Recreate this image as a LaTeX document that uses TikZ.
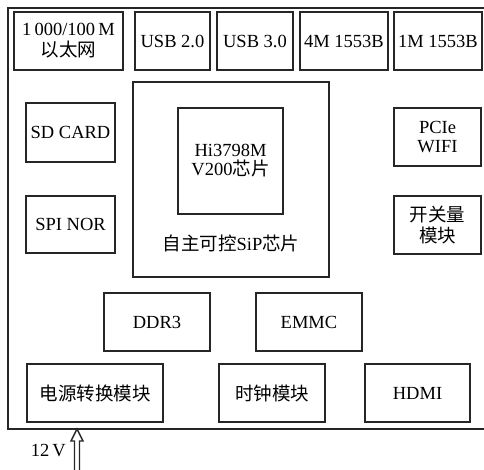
\documentclass[tikz,border=0pt]{standalone}
\usepackage{fontspec}
\setmainfont{Liberation Serif}
\newfontfamily\cjk{Noto Sans CJK SC}
\begin{document}
\begin{tikzpicture}[x=1pt,y=-1pt,
  box/.style={draw=black!85, line width=1.8pt, inner sep=0pt, align=center,
    font=\fontsize{18.5}{20}\selectfont},
  lbl/.style={inner sep=0pt, align=center, font=\fontsize{18.5}{20}\selectfont}]
\useasboundingbox (0,0) rectangle (484,470);
% outer frame
\draw[line width=1.4pt, black!85] (8,8) rectangle (492,429);
% top row
\node[box, minimum width=109pt, minimum height=58pt] (eth) at (68.5,41) {1\,000/100\,M\\[1pt]{\cjk 以太网}};
\node[box, minimum width=75pt, minimum height=58pt] (usb2) at (172.5,41) {USB 2.0};
\node[box, minimum width=76pt, minimum height=58pt] (usb3) at (255,41) {USB 3.0};
\node[box, minimum width=88pt, minimum height=58pt] (m4) at (344,41) {4M 1553B};
\node[box, minimum width=88pt, minimum height=58pt] (m1) at (438,41) {1M 1553B};
% SiP
\node[box, minimum width=196pt, minimum height=195pt] (sip) at (231,179.5) {};
\node[box, minimum width=105pt, minimum height=106pt] (hi) at (230.5,161) {Hi3798M\\[-1pt]V200{\cjk 芯片}};
\node[lbl] (siplbl) at (231,243) {{\cjk 自主可控}SiP{\cjk 芯片}};
% left column
\node[box, minimum width=89pt, minimum height=59pt] (sd) at (70.5,132.5) {SD CARD};
\node[box, minimum width=89pt, minimum height=57pt] (spi) at (70.5,224.5) {SPI NOR};
% right column
\node[box, minimum width=87pt, minimum height=58pt] (pcie) at (437.5,137) {PCIe\\[-1pt]WIFI};
\node[box, minimum width=87pt, minimum height=58pt] (kg) at (437.5,225) {{\cjk 开关量}\\[1pt]{\cjk 模块}};
% memory row
\node[box, minimum width=106pt, minimum height=58pt] (ddr) at (157,322) {DDR3};
\node[box, minimum width=106pt, minimum height=58pt] (emmc) at (309,322) {EMMC};
% bottom row
\node[box, minimum width=136pt, minimum height=58pt] (pwr) at (95,393) {\cjk 电源转换模块};
\node[box, minimum width=106pt, minimum height=58pt] (clk) at (272,393) {\cjk 时钟模块};
\node[box, minimum width=105pt, minimum height=58pt] (hdmi) at (417.5,393) {HDMI};
% 12 V input arrow
\coordinate (tip) at (77,429);
\draw[line width=1.4pt, black!85, line join=miter]
  ([xshift=-2.5pt,yshift=-41pt]tip) -- ([xshift=-2.5pt,yshift=-12pt]tip)
  -- ([xshift=-6pt,yshift=-12pt]tip) -- (tip)
  -- ([xshift=6pt,yshift=-12pt]tip) -- ([xshift=2.5pt,yshift=-12pt]tip)
  -- ([xshift=2.5pt,yshift=-41pt]tip);
\node[lbl, anchor=east] (v12) at (66,451) {12\,V};
\end{tikzpicture}
\end{document}
